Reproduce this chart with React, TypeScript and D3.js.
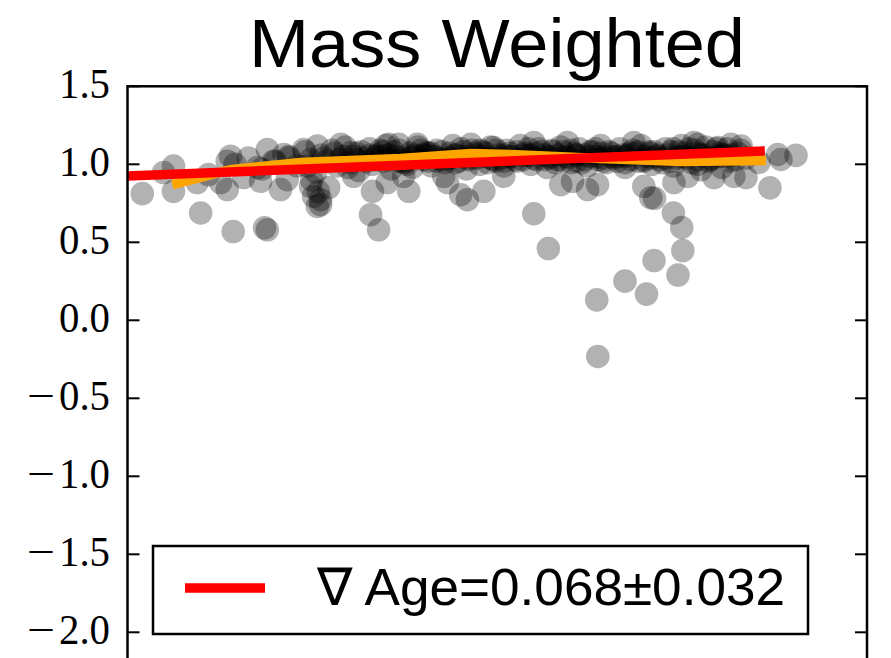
import React from "react";
import * as d3 from "d3";

// Y-axis ticks
const yTicks = [1.5, 1.0, 0.5, 0.0, -0.5, -1.0, -1.5, -2.0];

// Individual measurements: radius (x) and age (y)
const radius = [
  0.055, 0.272, 0.393, 0.51, 0.52, 0.171, 0.134, 0.171, 0.259, 0.301,
  0.346, 0.371, 0.383, 0.371, 0.432, 0.483, 0.52, 0.495, 0.543, 0.581,
  0.594, 0.569, 0.655, 0.669, 0.681, 0.692, 0.706, 0.71, 0.685, 0.718,
  0.6, 0.706, 0.718, 0.748, 0.793, 0.83, 0.841, 0.911, 0.904, 0.934,
  0.971, 0.966, 1.009, 1.027, 1.046, 1.078, 1.109, 1.176, 1.19, 1.239,
  1.264, 1.277, 1.325, 1.362, 1.399, 1.511, 1.565, 1.611, 1.655, 1.711,
  1.748, 1.92, 1.946, 1.511, 1.636, 1.883, 2.032, 2.083, 2.106, 1.745,
  1.749, 1.85, 1.93, 1.958, 2.047, 2.065, 2.061, 2.03, 1.96, 2.486,
  2.418, 2.43, 2.389, 2.348, 2.255, 2.181, 2.244, 2.282, 2.12, 2.133,
  2.195, 2.207, 2.3,
  // dense band
  0.72, 0.74, 0.76, 0.78, 0.8, 0.81, 0.83, 0.85, 0.86, 0.88,
  0.9, 0.91, 0.93, 0.95, 0.96, 0.98, 1.0, 1.01, 1.03, 1.05,
  1.06, 1.08, 1.1, 1.11, 1.13, 1.15, 1.16, 1.18, 1.2, 1.21,
  1.23, 1.25, 1.26, 1.28, 1.3, 1.31, 1.33, 1.35, 1.36, 1.38,
  1.4, 1.41, 1.43, 1.45, 1.46, 1.48, 1.5, 1.51, 1.53, 1.55,
  1.56, 1.58, 1.6, 1.61, 1.63, 1.65, 1.66, 1.68, 1.7, 1.71,
  1.73, 1.75, 1.76, 1.78, 1.8, 1.81, 1.83, 1.85, 1.86, 1.88,
  1.9, 1.91, 1.93, 1.95, 1.96, 1.98, 2.0, 2.01, 2.03, 2.05,
  2.06, 2.08, 2.1, 2.11, 2.13, 2.15, 2.16, 2.18, 2.2, 2.21,
  2.23, 2.25, 2.26, 2.28, 2.3,
  0.73, 0.77, 0.79, 0.82, 0.84, 0.87, 0.89, 0.92, 0.94, 0.97,
  0.99, 1.02, 1.04, 1.07, 1.09, 1.12, 1.14, 1.17, 1.19, 1.22,
  1.24, 1.27, 1.29, 1.32, 1.34, 1.37, 1.39, 1.42, 1.44, 1.47,
  1.49, 1.52, 1.54, 1.57, 1.59, 1.62, 1.64, 1.67, 1.69, 1.72,
  1.74, 1.77, 1.79, 1.82, 1.84, 1.87, 1.89, 1.92, 1.94, 1.97,
  1.99, 2.02, 2.04, 2.07, 2.09, 2.12, 2.14, 2.17, 2.19, 2.22,
  2.24, 2.27,
  1.0, 1.05, 1.1, 1.15, 1.2, 1.25, 1.3, 1.35, 1.4, 1.45,
  1.5, 1.55, 1.6, 1.65, 1.7, 1.75, 1.8, 0.85, 0.9, 0.95,
  1.85, 1.9, 1.95, 2.0, 2.05,
  0.4, 0.45, 0.5, 0.55, 0.6, 0.63, 0.66, 0.68, 0.7,
  0.92, 0.97, 1.02, 1.07, 1.12, 1.17, 1.22, 1.27, 1.32, 1.37,
  1.42, 1.47, 1.52, 1.57, 1.62, 1.67, 1.72, 1.77, 1.82, 1.87,
  1.92, 1.97, 2.02, 2.07, 2.12, 2.17, 2.22,
  0.95, 1.04, 1.13, 1.22, 1.31, 1.4, 1.49, 1.58, 1.67, 1.76,
  1.85, 1.94, 2.03, 2.12, 2.2,
];

const age = [
  0.812, 0.688, 0.569, 0.593, 0.58, 0.988, 0.947, 0.827, 0.883, 0.934,
  0.883, 1.02, 1.052, 0.838, 0.915, 0.979, 1.095, 0.891, 1.02, 1.063,
  0.902, 0.838, 1.095, 0.988, 0.859, 0.794, 0.73, 0.825, 0.9, 0.773,
  1.04, 1.117, 0.741, 0.851, 1.128, 1.076, 0.923, 0.827, 0.677, 0.58,
  1.128, 0.883, 1.128, 0.923, 0.827, 1.128, 1.076, 0.923, 0.883, 0.805,
  0.773, 1.128, 0.827, 1.108, 0.923, 0.683, 0.46, 0.87, 0.891, 0.838,
  0.87, 0.859, 0.786, 1.14, 1.14, 1.14, 0.883, 0.923, 1.14, 0.131,
  -0.232, 0.251, 0.168, 0.383, 0.29, 0.447, 0.595, 0.688, 0.782, 1.057,
  1.063, 1.031, 0.849, 1.012, 0.923, 0.915, 1.128, 1.117, 1.128, 0.966,
  1.108, 1.063, 0.915,
  // dense band
  1.06, 1.02, 1.09, 0.99, 1.05, 1.11, 1.01, 1.07, 0.96, 1.04,
  1.1, 1.0, 1.06, 1.02, 1.12, 0.97, 1.05, 1.09, 1.01, 1.07,
  0.98, 1.11, 1.03, 1.06, 0.99, 1.09, 1.04, 1.01, 1.07, 1.12,
  1.02, 1.05, 0.97, 1.09, 1.04, 1.0, 1.07, 1.11, 1.03, 1.06,
  0.99, 1.09, 1.05, 1.02, 1.12, 1.07, 1.0, 1.04, 1.1, 1.06,
  0.98, 1.08, 1.03, 1.11, 1.05, 1.01, 1.07, 1.1, 1.03, 0.99,
  1.08, 1.05, 1.12, 1.01, 1.07, 1.04, 1.1, 0.98, 1.06, 1.09,
  1.02, 1.12, 1.05, 1.0, 1.08, 1.03, 1.1, 1.06, 0.99, 1.08,
  1.12, 1.04, 1.01, 1.09, 1.06, 1.11, 1.02, 1.08, 1.05, 0.98,
  1.1, 1.06, 1.03, 1.09, 1.04,
  1.04, 1.07, 1.03, 0.98, 1.05, 1.08, 1.02, 1.05, 1.09, 1.03,
  1.08, 1.04, 1.0, 1.06, 1.09, 1.02, 1.05, 1.08, 1.03, 1.06,
  1.1, 1.03, 1.07, 1.05, 1.01, 1.09, 1.04, 1.07, 1.03, 1.06,
  1.1, 1.03, 1.08, 1.05, 1.01, 1.08, 1.04, 1.06, 1.01, 1.05,
  1.1, 1.04, 1.08, 1.02, 1.06, 1.03, 1.07, 1.02, 1.08, 1.05,
  1.01, 1.08, 1.04, 1.07, 1.1, 1.03, 1.06, 1.04, 1.1, 1.06,
  1.02, 1.07,
  1.02, 1.04, 1.06, 1.02, 1.04, 1.08, 1.06, 1.04, 1.06, 1.08,
  1.06, 1.03, 1.06, 1.09, 1.06, 1.03, 1.05, 1.03, 1.06, 1.05,
  1.05, 1.08, 1.04, 1.04, 1.05,
  1.0, 1.04, 0.97, 1.02, 1.05, 0.99, 1.08, 1.03, 0.95,
  1.03, 1.06, 1.02, 1.05, 1.07, 1.03, 1.06, 1.04, 1.08, 1.02,
  1.05, 1.03, 1.07, 1.04, 1.02, 1.06, 1.08, 1.02, 1.05, 1.07,
  1.03, 1.06, 1.02, 1.05, 1.07, 1.03, 1.05,
  1.08, 1.02, 1.07, 1.01, 1.09, 1.02, 1.06, 1.09, 1.02, 1.07,
  1.01, 1.07, 1.1, 1.0, 1.07,
];

// Running trend (orange)
const trendRadius = [0.167, 0.383, 0.644, 1.016, 1.277, 1.425, 1.76, 2.058, 2.374];
const trendAge = [0.87, 0.966, 1.012, 1.037, 1.069, 1.063, 1.037, 1.018, 1.024];

// Linear fit (red)
const fitSlope = 0.068;
const fitError = 0.032;
const fitIntercept = 0.925;
const fitRange = [0, 2.37];

const W = 891;
const H = 658;
const plotLeft = 127.5;
const plotRight = 867;
const plotTop = 86.3;
const plotBottom = 710.3;

export default function App() {
  const x = d3.scaleLinear().domain([0, 2.75]).range([plotLeft, plotRight]);
  const y = d3.scaleLinear().domain([-2.5, 1.5]).range([plotBottom, plotTop]);

  const trendPts: [number, number][] = trendRadius.map((r, i) => [r, trendAge[i]]);
  const fitPts: [number, number][] = fitRange.map((r) => [r, fitIntercept + fitSlope * r]);
  const line = d3
    .line<[number, number]>()
    .x((d) => x(d[0]))
    .y((d) => y(d[1]));

  const serif = "'Liberation Serif', 'DejaVu Serif', serif";
  const sans = "'Liberation Sans', Arial, sans-serif";
  const tickFont = 42;
  const labelRight = 110;
  const numWidth = 51;

  return (
    <svg
      width={W}
      height={H}
      style={{ position: "absolute", left: 0, top: 0, background: "#fff" }}
    >
      <defs>
        <clipPath id="plotArea">
          <rect x={plotLeft} y={plotTop} width={plotRight - plotLeft} height={plotBottom - plotTop} />
        </clipPath>
      </defs>
      <rect x={0} y={0} width={W} height={H} fill="#fff" />

      <text
        x={(249 + 745) / 2}
        y={67}
        textAnchor="middle"
        fontFamily={sans}
        fontSize={68}
        textLength={496}
        lengthAdjust="spacingAndGlyphs"
      >
        Mass Weighted
      </text>

      <g clipPath="url(#plotArea)">
        {radius.map((r, i) => (
          <circle key={i} cx={x(r)} cy={y(age[i])} r={11.8} fill="#000" fillOpacity={0.3} />
        ))}
        <path d={line(trendPts) || ""} fill="none" stroke="#ffa500" strokeWidth={9.5} />
        <path d={line(fitPts) || ""} fill="none" stroke="#ff0000" strokeWidth={9.5} />
      </g>

      {/* frame */}
      <rect
        x={plotLeft}
        y={plotTop}
        width={plotRight - plotLeft}
        height={plotBottom - plotTop}
        fill="none"
        stroke="#000"
        strokeWidth={2.5}
      />

      {yTicks.map((t) => (
        <g key={t}>
          <line x1={plotLeft} x2={plotLeft + 12} y1={y(t)} y2={y(t)} stroke="#000" strokeWidth={2} />
          <line x1={plotRight - 12} x2={plotRight} y1={y(t)} y2={y(t)} stroke="#000" strokeWidth={2} />
          <text
            x={labelRight}
            y={y(t) + 12}
            textAnchor="end"
            fontFamily={serif}
            fontSize={tickFont}
            textLength={numWidth}
            lengthAdjust="spacingAndGlyphs"
          >
            {Math.abs(t).toFixed(1)}
          </text>
          {t < 0 && (
            <text
              x={labelRight - numWidth - 4}
              y={y(t) + 12}
              textAnchor="end"
              fontFamily={serif}
              fontSize={tickFont}
              textLength={28}
              lengthAdjust="spacingAndGlyphs"
            >
              −
            </text>
          )}
        </g>
      ))}

      {/* legend */}
      <rect x={153} y={546} width={655} height={88} fill="#fff" stroke="#000" strokeWidth={2.5} />
      <line x1={185} x2={265} y1={588} y2={588} stroke="#ff0000" strokeWidth={9.5} />
      <text
        x={317}
        y={605}
        fontFamily={sans}
        fontSize={52}
        textLength={468}
        lengthAdjust="spacingAndGlyphs"
      >
        {`∇ Age=${fitSlope.toFixed(3)}±${fitError.toFixed(3)}`}
      </text>
    </svg>
  );
}
